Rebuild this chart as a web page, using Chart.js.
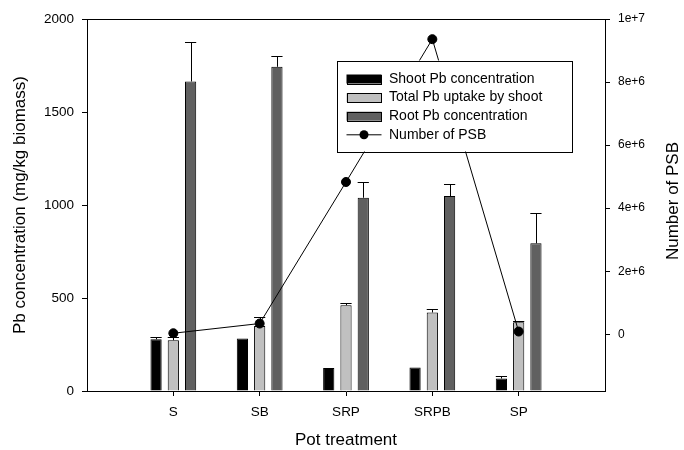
<!DOCTYPE html>
<html><head><meta charset="utf-8">
<script src="https://cdn.jsdelivr.net/npm/chart.js@4/dist/chart.umd.min.js"></script>
<style>html,body{margin:0;padding:0;background:#fff}</style>
</head><body>
<canvas id="c" width="684" height="450"></canvas>
<script>
const categories = ['S', 'SB', 'SRP', 'SRPB', 'SP'];
const shootPb = [278, 282, 124, 126, 67];
const shootErr = [13, 0, 0, 0, 11];
const totalUptake = [273, 350, 461, 422, 370];
const totalErr = [18, 47, 13, 20, 5];
const rootPb = [1664, 1743, 1039, 1048, 794];
const rootErr = [214, 59, 85, 65, 161];
const psbCount = [32000, 340000, 4830000, 9360000, 86000];
const leftTicks = [0, 500, 1000, 1500, 2000];
const rightTicks = [0, 2000000, 4000000, 6000000, 8000000, 10000000];

const FONT = "'Liberation Sans', Arial, sans-serif";
const pts = arr => arr.map((v, i) => ({x: i + 1, y: v}));

const errorPlugin = {
  id: 'errs',
  afterDatasetDraw(chart, args) {
    const ds = chart.data.datasets[args.index];
    if (!ds.errors) return;
    const ctx = chart.ctx, ys = chart.scales.y;
    ctx.save();
    ctx.strokeStyle = '#000'; ctx.lineWidth = 1;
    args.meta.data.forEach((el, j) => {
      const e = ds.errors[j];
      if (!e) return;
      const yTop = Math.round(ys.getPixelForValue(ds.data[j].y + e)) + 0.5;
      const x = Math.round(el.x) + 0.5;
      const hw = el.width / 2;
      ctx.beginPath();
      ctx.moveTo(x, el.y); ctx.lineTo(x, yTop);
      ctx.moveTo(el.x - hw, yTop); ctx.lineTo(el.x + hw, yTop);
      ctx.stroke();
    });
    ctx.restore();
  }
};

const decoPlugin = {
  id: 'deco',
  afterDraw(chart) {
    const ctx = chart.ctx, ca = chart.chartArea;
    ctx.save();
    // top frame line
    ctx.strokeStyle = '#000'; ctx.lineWidth = 1;
    ctx.beginPath();
    ctx.moveTo(ca.left, Math.round(ca.top) + 0.5);
    ctx.lineTo(ca.right, Math.round(ca.top) + 0.5);
    ctx.stroke();
    // axis titles
    ctx.fillStyle = '#000';
    ctx.textAlign = 'center'; ctx.textBaseline = 'middle';
    ctx.font = '17px ' + FONT;
    const cy = (ca.top + ca.bottom) / 2;
    ctx.save(); ctx.translate(20, cy); ctx.rotate(-Math.PI / 2);
    ctx.fillText('Pb concentration (mg/kg biomass)', 0, 0); ctx.restore();
    ctx.save(); ctx.translate(673, cy - 4); ctx.rotate(-Math.PI / 2);
    ctx.fillText('Number of PSB', 0, 0); ctx.restore();
    ctx.fillText('Pot treatment', (ca.left + ca.right) / 2, 440);
    // legend
    const lx = ca.left + 250, ly = ca.top + 41.5, lw = 235, lh = 91;
    ctx.fillStyle = '#fff';
    ctx.fillRect(lx, ly, lw, lh);
    ctx.strokeRect(Math.round(lx) + 0.5, Math.round(ly) + 0.5, lw, lh);
    ctx.font = '14px ' + FONT;
    ctx.textAlign = 'left';
    chart.data.datasets.forEach((ds, i) => {
      const ry = ly + 18.5 + i * 18.6;
      const sx = lx + 9.5;
      if (ds.type === 'line') {
        ctx.beginPath(); ctx.moveTo(sx, ry); ctx.lineTo(sx + 35, ry); ctx.stroke();
        ctx.fillStyle = '#000';
        ctx.beginPath(); ctx.arc(sx + 17.5, ry, 4.5, 0, Math.PI * 2); ctx.fill();
      } else {
        ctx.fillStyle = ds.backgroundColor;
        ctx.fillRect(sx, ry - 4.5, 35, 9);
        ctx.strokeRect(Math.round(sx) + 0.5, Math.round(ry - 4.5) + 0.5, 34, 9);
      }
      ctx.fillStyle = '#000';
      ctx.fillText(ds.label, lx + 52, ry);
    });
    ctx.restore();
  }
};

const axisCommon = {
  grid: {display: true, drawOnChartArea: false, drawTicks: true, tickLength: 5, tickColor: '#000', offset: false},
  border: {display: true, color: '#000', width: 1}
};

new Chart(document.getElementById('c'), {
  type: 'bar',
  data: {
    datasets: [
      {label: 'Shoot Pb concentration', data: pts(shootPb), errors: shootErr, backgroundColor: '#000000', borderColor: '#000', borderWidth: 1, yAxisID: 'y', order: 0},
      {label: 'Total Pb uptake by shoot', data: pts(totalUptake), errors: totalErr, backgroundColor: '#c0c0c0', borderColor: '#000', borderWidth: 1, yAxisID: 'y', order: 0},
      {label: 'Root Pb concentration', data: pts(rootPb), errors: rootErr, backgroundColor: '#606060', borderColor: '#000', borderWidth: 1, yAxisID: 'y', order: 0},
      {type: 'line', label: 'Number of PSB', data: pts(psbCount), yAxisID: 'y2', borderColor: '#000', borderWidth: 1, pointRadius: 4.5, pointBackgroundColor: '#000', pointBorderColor: '#000', tension: 0, order: -1}
    ]
  },
  options: {
    responsive: false, animation: false, devicePixelRatio: 1,
    layout: {padding: {top: 19, left: 0, right: 0, bottom: 0}},
    datasets: {bar: {categoryPercentage: 0.6, barPercentage: 0.65}},
    plugins: {legend: {display: false}, tooltip: {enabled: false}},
    scales: {
      x: Object.assign({}, axisCommon, {
        type: 'linear', min: 0, max: 6, offset: false,
        afterBuildTicks: s => { s.ticks = categories.map((c, i) => ({value: i + 1})); },
        afterFit: s => { s.height = 59; },
        ticks: {autoSkip: false, maxRotation: 0, padding: 8, color: '#000', font: {family: FONT, size: 13.5},
          callback: v => categories[v - 1]}
      }),
      y: Object.assign({}, axisCommon, {
        position: 'left', min: 0, max: 2000,
        afterBuildTicks: s => { s.ticks = leftTicks.map(v => ({value: v})); },
        afterFit: s => { s.width = 87; },
        ticks: {padding: 8, color: '#000', font: {family: FONT, size: 13.5}, callback: v => String(v)}
      }),
      y2: Object.assign({}, axisCommon, {
        position: 'right', min: -1800000, max: 10000000,
        afterBuildTicks: s => { s.ticks = rightTicks.map(v => ({value: v})); },
        afterFit: s => { s.width = 79; },
        ticks: {padding: 8, color: '#000', font: {family: FONT, size: 12},
          callback: v => v === 0 ? '0' : Number(v).toExponential()}
      })
    }
  },
  plugins: [errorPlugin, decoPlugin]
});
</script>
</body></html>
